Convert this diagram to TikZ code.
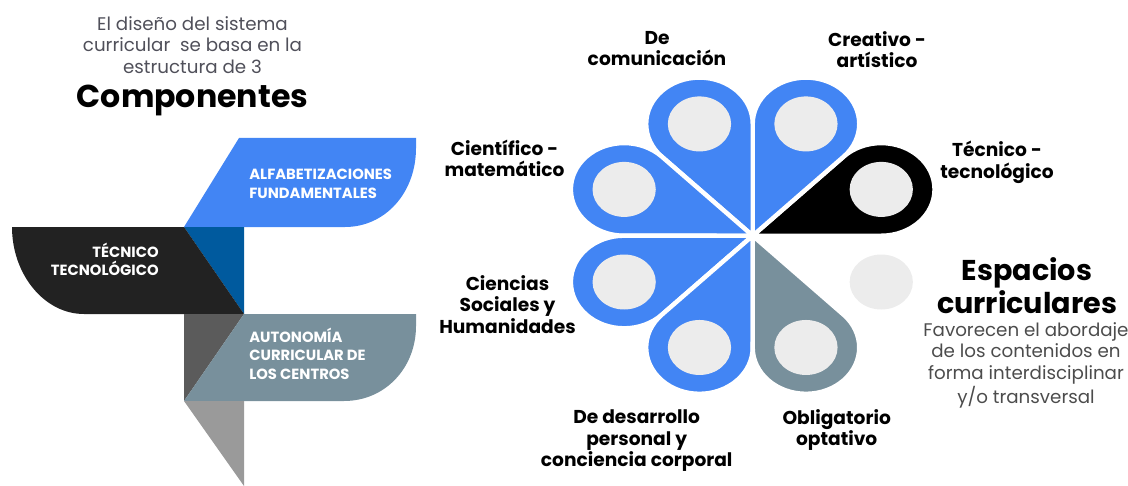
\documentclass[tikz,border=0pt]{standalone}
\usepackage{fontspec}
\setmainfont{Poppins}
\usepackage{tikz}
\usetikzlibrary{positioning}
\definecolor{petalblue}{RGB}{66, 133, 244}
\definecolor{petalslate}{RGB}{120, 144, 156}
\definecolor{holegray}{RGB}{236, 236, 236}
\definecolor{tileblack}{RGB}{34, 34, 34}
\definecolor{tiledeep}{RGB}{0, 90, 158}
\definecolor{tiledark}{RGB}{91, 91, 91}
\definecolor{tilelight}{RGB}{154, 154, 154}
\definecolor{introgray}{RGB}{80, 80, 90}

\tikzset{
  tiletext/.style={font=\fontsize{8.4}{10.4}\selectfont\bfseries, text=white, inner sep=0pt, anchor=base west, align=left},
  petaltext/.style={font=\fontsize{10.6}{12.2}\selectfont\bfseries, inner sep=0pt, anchor=base, align=center},
  softtext/.style={font=\fontsize{10.4}{12.3}\selectfont, text=introgray, inner sep=0pt, anchor=base, align=center},
  headtext/.style={font=\fontsize{16.3}{18.8}\selectfont\bfseries, inner sep=0pt, anchor=base, align=center}
}

\begin{document}
\begin{tikzpicture}[x=0.02cm, y=-0.02cm]
  \useasboundingbox (0,0) rectangle (1128,486);

  % left block
  \fill[petalblue] (239,138) -- (416,138) -- (416,148) .. controls (416,193) and (385,227) .. (345,227) -- (184,227) -- cycle;
  \fill[tiledeep] (184,227) -- (244,227) -- (244,314) -- cycle;
  \fill[tileblack] (12,227) -- (184,227) -- (244,314) -- (84,314) .. controls (44,314) and (12,274) .. cycle;
  \fill[tiledark] (184,314) -- (244,314) -- (184,401) -- cycle;
  \fill[petalslate] (244,314) -- (416,314) -- (416,326) .. controls (416,368) and (385,401) .. (344,401) -- (184,401) -- cycle;
  \fill[tilelight] (184,401) -- (244,401) -- (244,486) -- cycle;

  \node[tiletext] (alfab) at (249,198) {ALFABETIZACIONES\\FUNDAMENTALES};
  \node[tiletext, anchor=base east, align=right] (tecnico) at (159,275.7) {TÉCNICO\\TECNOLÓGICO};
  \node[tiletext] (autonomia) at (249,379) {AUTONOMÍA\\CURRICULAR DE\\LOS CENTROS};

  \node[softtext] (intro) at (192.5,73.3) {El diseño del sistema\\curricular\ \ se basa en la\\estructura de 3};
  \node[headtext, font=\fontsize{18}{20}\selectfont\bfseries] (componentes) at (192.5,107.3) {Componentes};

  % flower
  \coordinate (hub) at (752.7,235.7);
  \begin{scope}[shift={(hub)}, xscale=1.15, yscale=-1]
    \foreach \ang/\col in {22.5/black, 67.5/petalblue, 112.5/petalblue, 157.5/petalblue,
                           202.5/petalblue, 247.5/petalblue, 292.5/petalslate}
      \filldraw[fill=\col, draw=white, line width=2.5pt, line join=round]
        (0,0) -- (\ang-22.5:111.8) arc[start angle=\ang-112.5, end angle=\ang+112.5, radius=46.3] -- cycle;
    \foreach \ang in {22.5, 67.5, 112.5, 157.5, 202.5, 247.5, 292.5, 337.5}
      \fill[holegray] (\ang:121) circle[radius=27.5];
  \end{scope}

  \node[petaltext] (comunicacion) at (657,65.7) {De\\comunicación};
  \node[petaltext] (creativo) at (877,67.7) {Creativo -\\artístico};
  \node[petaltext] (cientifico) at (504.5,176.7) {Científico -\\matemático};
  \node[petaltext] (tecnologico) at (997,178) {Técnico -\\tecnológico};
  \node[petaltext] (sociales) at (507.5,333) {Ciencias\\Sociales y\\Humanidades};
  \node[petaltext] (desarrollo) at (636.7,466.7) {De desarrollo\\personal y\\conciencia corporal};
  \node[petaltext] (obligatorio) at (836.7,445.7) {Obligatorio\\optativo};

  \node[headtext] (espacios) at (1027,313.3) {Espacios\\curriculares};
  \node[softtext, text=black!70] (favorecen) at (1026,403.3) {Favorecen el abordaje\\de los contenidos en\\forma interdisciplinar\\y/o transversal};
\end{tikzpicture}
\end{document}
